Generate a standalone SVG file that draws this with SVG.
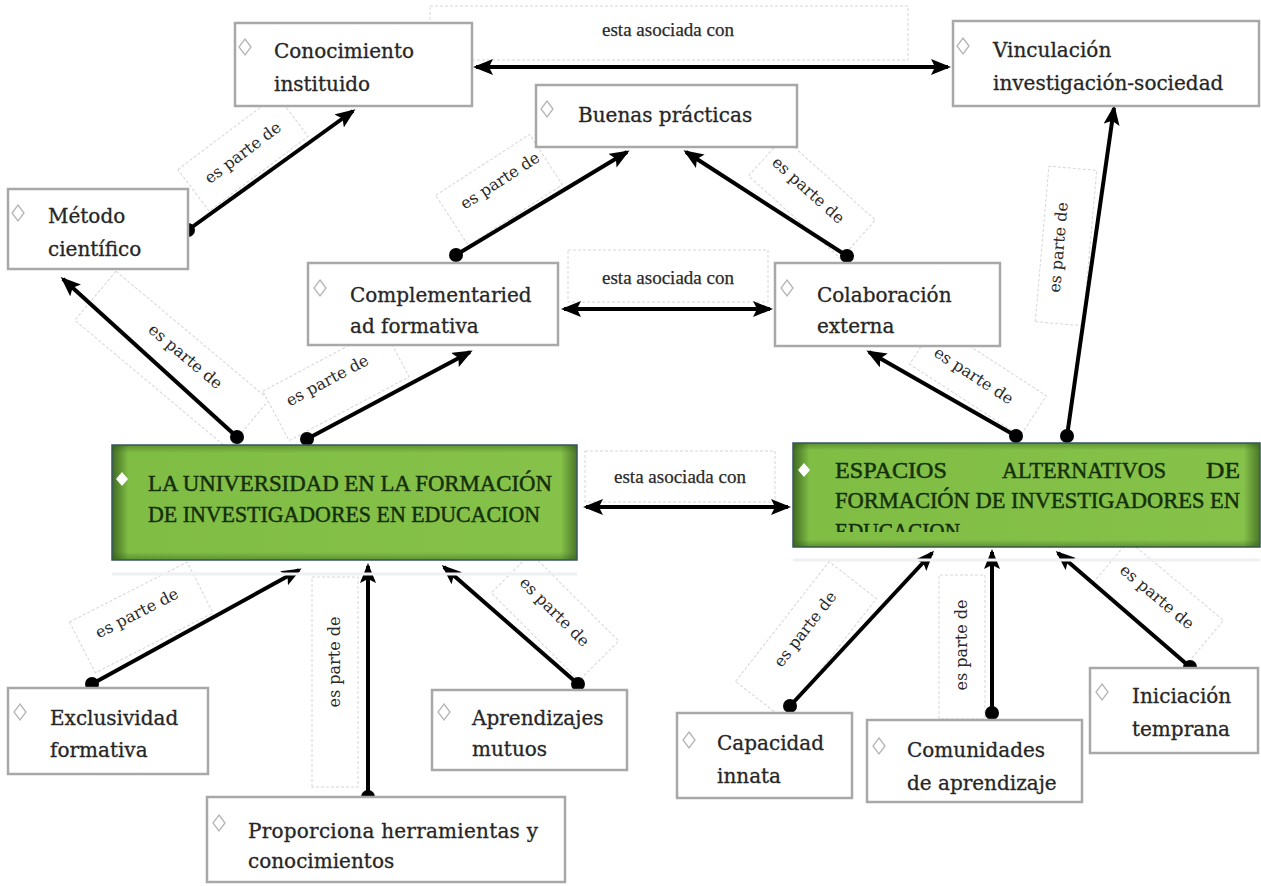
<svg xmlns="http://www.w3.org/2000/svg" width="1261" height="886" viewBox="0 0 1261 886">
<defs>
<style>
.box{fill:#fff;stroke:#a8a8a8;stroke-width:2.5}
.dia{fill:#fff;stroke:#b5b5b5;stroke-width:1.3}
.wdia{fill:#fff;stroke:none}
.nt{font-family:"DejaVu Serif","Liberation Serif",serif;font-size:20px;fill:#262626;stroke:#262626;stroke-width:0.3}
.gt{font-family:"Liberation Serif","DejaVu Serif",serif;font-size:24px;fill:#14300a;stroke:#14300a;stroke-width:0.5}
.lbl{fill:#fff;stroke:#d6d6d6;stroke-width:1;stroke-dasharray:3 2}
.lt{font-family:"DejaVu Serif","Liberation Serif",serif;font-size:16px;fill:#2a2a2a;text-anchor:middle}
.at{font-family:"Liberation Serif","DejaVu Serif",serif;font-size:19px;fill:#2a2a2a;stroke:#2a2a2a;stroke-width:0.25;text-anchor:middle}
.ln{fill:none;stroke:#000;stroke-width:4}
.dot{fill:#000}
.sh{stroke:#eef0f2;stroke-width:3}
</style>
<marker id="ah" viewBox="0 0 20 16" refX="17" refY="8" markerWidth="20" markerHeight="16" markerUnits="userSpaceOnUse" orient="auto-start-reverse">
<path d="M0,0 L20,8 L0,16 L4,8 z" fill="#000"/>
</marker>
<linearGradient id="gh" x1="0" y1="0" x2="1" y2="0">
<stop offset="0" stop-color="#3f6a22"/>
<stop offset="0.035" stop-color="#80bd45"/>
<stop offset="0.965" stop-color="#86c24a"/>
<stop offset="1" stop-color="#4a7628"/>
</linearGradient>
<linearGradient id="gv" x1="0" y1="0" x2="0" y2="1">
<stop offset="0" stop-color="#2f5a18" stop-opacity="0.45"/>
<stop offset="0.07" stop-color="#2f5a18" stop-opacity="0"/>
<stop offset="0.93" stop-color="#2f5a18" stop-opacity="0"/>
<stop offset="1" stop-color="#2f5a18" stop-opacity="0.45"/>
</linearGradient>
<clipPath id="clipEsp"><rect x="793" y="515" width="467" height="17"/></clipPath>
</defs>
<rect width="1261" height="886" fill="#fff"/>

<g id="labels">
<rect class="lbl" x="430" y="6" width="478" height="54" stroke-dasharray="none" stroke="#e2e2e2"/>
<text class="at" x="668" y="36">esta asociada con</text>
<rect class="lbl" x="568" y="250" width="200" height="52" stroke-dasharray="none"/>
<text class="at" x="668" y="284">esta asociada con</text>
<rect class="lbl" x="585" y="451" width="190" height="51" stroke-dasharray="none"/>
<text class="at" x="680" y="483">esta asociada con</text>
<g transform="translate(243,153) rotate(-37)"><rect class="lbl" x="-62" y="-26" width="124" height="52"/><text class="lt" y="5">es parte de</text></g>
<g transform="translate(172,360) rotate(40)"><rect class="lbl" x="-100" y="-32" width="200" height="64"/><text class="lt" x="8" y="-6">es parte de</text></g>
<g transform="translate(336,384) rotate(-28)"><rect class="lbl" x="-68" y="-28" width="136" height="56"/><text class="lt" x="-6" y="-2">es parte de</text></g>
<g transform="translate(499,190) rotate(-33)"><rect class="lbl" x="-56" y="-30" width="112" height="60"/><text class="lt" x="6" y="-2">es parte de</text></g>
<g transform="translate(812,198) rotate(42)"><rect class="lbl" x="-62" y="-26" width="124" height="52"/><text class="lt" x="-8" y="2">es parte de</text></g>
<g transform="translate(1066,246) rotate(-85)"><rect class="lbl" x="-78" y="-24" width="156" height="48"/><text class="lt" x="-2" y="-2">es parte de</text></g>
<g transform="translate(978,380) rotate(33)"><rect class="lbl" x="-66" y="-24" width="132" height="48"/><text class="lt" x="-6" y="4">es parte de</text></g>
<g transform="translate(141,617) rotate(-27)"><rect class="lbl" x="-66" y="-28" width="132" height="57"/><text class="lt" x="-2" y="0">es parte de</text></g>
<g transform="translate(335,682) rotate(-90)"><rect class="lbl" x="-105" y="-23" width="210" height="46"/><text class="lt" x="20" y="5">es parte de</text></g>
<g transform="translate(555,617) rotate(45)"><rect class="lbl" x="-62" y="-28" width="124" height="56"/><text class="lt" x="-4" y="2">es parte de</text></g>
<g transform="translate(806,640) rotate(-52)"><rect class="lbl" x="-76" y="-30" width="152" height="60"/><text class="lt" x="8" y="-2">es parte de</text></g>
<g transform="translate(962,647) rotate(-90)"><rect class="lbl" x="-72" y="-23" width="144" height="46"/><text class="lt" x="2" y="5">es parte de</text></g>
<g transform="translate(1158,602) rotate(40)"><rect class="lbl" x="-62" y="-28" width="124" height="56"/><text class="lt" x="-4" y="2">es parte de</text></g>
</g>

<g id="connectors">
<line class="ln" x1="476" y1="67" x2="948" y2="67" marker-start="url(#ah)" marker-end="url(#ah)"/>
<line class="ln" x1="564" y1="309" x2="770" y2="309" marker-start="url(#ah)" marker-end="url(#ah)"/>
<line class="ln" x1="586" y1="507" x2="788" y2="507" marker-start="url(#ah)" marker-end="url(#ah)"/>
<line class="ln" x1="188" y1="230" x2="353" y2="111" marker-end="url(#ah)"/><circle class="dot" cx="188" cy="230" r="7"/>
<line class="ln" x1="237" y1="437" x2="63" y2="279" marker-end="url(#ah)"/><circle class="dot" cx="237" cy="437" r="7"/>
<line class="ln" x1="307" y1="439" x2="470" y2="352" marker-end="url(#ah)"/><circle class="dot" cx="307" cy="439" r="7"/>
<line class="ln" x1="456" y1="255" x2="627" y2="152" marker-end="url(#ah)"/><circle class="dot" cx="456" cy="255" r="7"/>
<line class="ln" x1="847" y1="256" x2="686" y2="152" marker-end="url(#ah)"/><circle class="dot" cx="847" cy="256" r="7"/>
<line class="ln" x1="1016" y1="436" x2="869" y2="352" marker-end="url(#ah)"/><circle class="dot" cx="1016" cy="436" r="7"/>
<line class="ln" x1="1067" y1="436" x2="1114" y2="108" marker-end="url(#ah)"/><circle class="dot" cx="1067" cy="436" r="7"/>
<line class="ln" x1="92" y1="684" x2="299" y2="570" marker-end="url(#ah)"/><circle class="dot" cx="92" cy="684" r="7"/>
<line class="ln" x1="368" y1="797" x2="368" y2="566" marker-end="url(#ah)"/><circle class="dot" cx="368" cy="797" r="7"/>
<line class="ln" x1="578" y1="684" x2="444" y2="567" marker-end="url(#ah)"/><circle class="dot" cx="578" cy="684" r="7"/>
<line class="ln" x1="790" y1="706" x2="932" y2="553" marker-end="url(#ah)"/><circle class="dot" cx="790" cy="706" r="7"/>
<line class="ln" x1="992" y1="713" x2="992" y2="552" marker-end="url(#ah)"/><circle class="dot" cx="992" cy="713" r="7"/>
<line class="ln" x1="1190" y1="667" x2="1058" y2="553" marker-end="url(#ah)"/><circle class="dot" cx="1190" cy="667" r="7"/>
</g>

<g id="conocimiento">
<rect class="box" x="235" y="23" width="237" height="83"/>
<path class="dia" d="M245,39 L251,47 L245,55 L239,47 z"/>
<text class="nt" x="274" y="58">Conocimiento</text>
<text class="nt" x="274" y="91">instituido</text>
</g>
<g id="metodo">
<rect class="box" x="8" y="189" width="180" height="80"/>
<path class="dia" d="M18,205 L24,213 L18,221 L12,213 z"/>
<text class="nt" x="48" y="223">Método</text>
<text class="nt" x="48" y="256">científico</text>
</g>
<g id="buenas">
<rect class="box" x="536" y="85" width="261" height="62"/>
<path class="dia" d="M547,101 L553,109 L547,117 L541,109 z"/>
<text class="nt" x="578" y="122">Buenas prácticas</text>
</g>
<g id="vinculacion">
<rect class="box" x="953" y="21" width="306" height="85"/>
<path class="dia" d="M963,38 L969,46 L963,54 L957,46 z"/>
<text class="nt" x="993" y="57">Vinculación</text>
<text class="nt" x="993" y="90">investigación-sociedad</text>
</g>
<g id="complementariedad">
<rect class="box" x="308" y="263" width="250" height="82"/>
<path class="dia" d="M320,280 L326,288 L320,296 L314,288 z"/>
<text class="nt" x="350" y="302">Complementaried</text>
<text class="nt" x="350" y="333">ad formativa</text>
</g>
<g id="colaboracion">
<rect class="box" x="775" y="263" width="225" height="83"/>
<path class="dia" d="M787,280 L793,288 L787,296 L781,288 z"/>
<text class="nt" x="817" y="302">Colaboración</text>
<text class="nt" x="817" y="333">externa</text>
</g>
<g id="universidad">
<line class="sh" x1="112" y1="574" x2="577" y2="574"/>
<rect x="112" y="445" width="465" height="115" fill="url(#gh)" stroke="#3b5566" stroke-width="1.5"/>
<rect x="112" y="445" width="465" height="115" fill="url(#gv)"/>
<path class="wdia" d="M122,472 L128,479 L122,486 L116,479 z"/>
<text class="gt" x="148" y="491" textLength="404" lengthAdjust="spacingAndGlyphs">LA UNIVERSIDAD EN LA FORMACIÓN</text>
<text class="gt" x="148" y="522" textLength="392" lengthAdjust="spacingAndGlyphs">DE INVESTIGADORES EN EDUCACION</text>
</g>
<g id="espacios">
<line class="sh" x1="793" y1="560" x2="1260" y2="560"/>
<rect x="793" y="443" width="467" height="104" fill="url(#gh)" stroke="#3b5566" stroke-width="1.5"/>
<rect x="793" y="443" width="467" height="104" fill="url(#gv)"/>
<path class="wdia" d="M804,463 L810,470 L804,477 L798,470 z"/>
<text class="gt" y="478"><tspan x="835" textLength="112" lengthAdjust="spacingAndGlyphs">ESPACIOS</tspan><tspan x="1002" textLength="164" lengthAdjust="spacingAndGlyphs">ALTERNATIVOS</tspan><tspan x="1206" textLength="34" lengthAdjust="spacingAndGlyphs">DE</tspan></text>
<text class="gt" x="835" y="508" textLength="405" lengthAdjust="spacingAndGlyphs">FORMACIÓN DE INVESTIGADORES EN</text>
<g clip-path="url(#clipEsp)">
<text class="gt" x="835" y="539" textLength="125" lengthAdjust="spacingAndGlyphs">EDUCACION</text>
</g>
</g>
<g id="exclusividad">
<rect class="box" x="8" y="688" width="200" height="86"/>
<path class="dia" d="M20,704 L26,712 L20,720 L14,712 z"/>
<text class="nt" x="50" y="725">Exclusividad</text>
<text class="nt" x="50" y="757">formativa</text>
</g>
<g id="aprendizajes">
<rect class="box" x="432" y="690" width="195" height="80"/>
<path class="dia" d="M444,704 L450,712 L444,720 L438,712 z"/>
<text class="nt" x="472" y="725">Aprendizajes</text>
<text class="nt" x="472" y="756">mutuos</text>
</g>
<g id="proporciona">
<rect class="box" x="207" y="797" width="358" height="85"/>
<path class="dia" d="M219,815 L225,823 L219,831 L213,823 z"/>
<text class="nt" x="248" y="838" textLength="290" lengthAdjust="spacing">Proporciona herramientas y</text>
<text class="nt" x="248" y="868">conocimientos</text>
</g>
<g id="capacidad">
<rect class="box" x="677" y="713" width="175" height="85"/>
<path class="dia" d="M689,732 L695,740 L689,748 L683,740 z"/>
<text class="nt" x="717" y="750">Capacidad</text>
<text class="nt" x="717" y="783">innata</text>
</g>
<g id="comunidades">
<rect class="box" x="867" y="720" width="215" height="82"/>
<path class="dia" d="M879,738 L885,746 L879,754 L873,746 z"/>
<text class="nt" x="907" y="757">Comunidades</text>
<text class="nt" x="907" y="790">de aprendizaje</text>
</g>
<g id="iniciacion">
<rect class="box" x="1090" y="668" width="168" height="85"/>
<path class="dia" d="M1102,684 L1108,692 L1102,700 L1096,692 z"/>
<text class="nt" x="1132" y="703">Iniciación</text>
<text class="nt" x="1132" y="736">temprana</text>
</g>
</svg>
